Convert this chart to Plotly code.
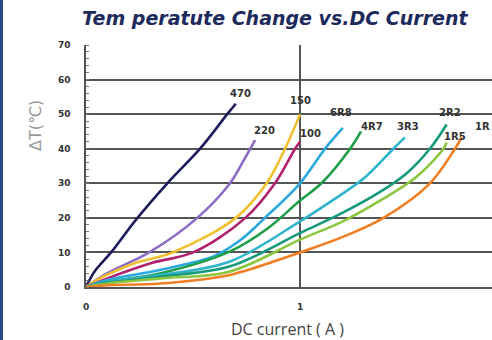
import plotly.graph_objects as go

names = ["470", "220", "150", "100", "6R8", "4R7", "3R3", "2R2", "1R5", "1R"]
colors = ["#1d1b5a", "#8c6cc4", "#f0c030", "#b0226c", "#2aa8e0",
          "#1f9e48", "#30b4cc", "#16987a", "#8cc640", "#f07e22"]

x_470 = [0, 0.04, 0.117, 0.234, 0.38, 0.533, 0.66, 0.70]
y_470 = [0, 4.5, 10, 19.5, 30, 40, 50, 53]
x_220 = [0, 0.10, 0.295, 0.52, 0.673, 0.74, 0.79]
y_220 = [0, 4, 10, 20, 30, 37, 42.5]
x_150 = [0, 0.05, 0.234, 0.405, 0.70, 0.844, 0.93, 1.0]
y_150 = [0, 2, 7, 10, 20, 30, 40, 50]
x_100 = [0, 0.10, 0.31, 0.50, 0.745, 0.883, 0.977, 1.0]
y_100 = [0, 2.5, 7, 10, 20, 30, 40, 42]
x_6r8 = [0, 0.10, 0.35, 0.60, 0.72, 0.836, 1.0, 1.117, 1.20]
y_6r8 = [0, 2, 5, 9, 13.5, 20, 30, 40, 46]
x_4r7 = [0, 0.10, 0.35, 0.673, 0.85, 1.0, 1.10, 1.234, 1.285]
y_4r7 = [0, 1.5, 4, 10.3, 17, 25, 30, 40, 45]
x_3r3 = [0, 0.10, 0.35, 0.673, 1.0, 1.15, 1.30, 1.436, 1.49]
y_3r3 = [0, 1.5, 3.5, 7.4, 19, 25, 31.5, 40, 43.3]
x_2r2 = [0, 0.10, 0.35, 0.673, 1.0, 1.2, 1.374, 1.50, 1.607, 1.685]
y_2r2 = [0, 1.2, 3, 6, 15.6, 21.5, 27.5, 33, 40, 47]
x_1r5 = [0, 0.10, 0.35, 0.673, 1.0, 1.2, 1.374, 1.537, 1.67, 1.685]
y_1r5 = [0, 1, 2.5, 4.5, 13.7, 19, 25, 31.5, 40, 41.8]
x_1r = [0, 0.10, 0.35, 0.673, 0.748, 1.0, 1.2, 1.39, 1.607, 1.724, 1.755]
y_1r = [0, 0.5, 1, 3.5, 4.8, 10, 14.5, 20, 30, 40, 43.3]

xs = [x_470, x_220, x_150, x_100, x_6r8, x_4r7, x_3r3, x_2r2, x_1r5, x_1r]
ys = [y_470, y_220, y_150, y_100, y_6r8, y_4r7, y_3r3, y_2r2, y_1r5, y_1r]

label_x = [0.72, 0.836, 1.0, 1.05, 1.19, 1.336, 1.505, 1.70, 1.724, 1.897]
label_y = [56, 45.2, 54, 44.3, 50.4, 46.4, 46.4, 50.4, 43.5, 46.4]

x_ticks = [0, 1]
y_ticks = [0, 10, 20, 30, 40, 50, 60, 70]

fig = go.Figure()
for n, c, x, y in zip(names, colors, xs, ys):
    fig.add_trace(go.Scatter(x=x, y=y, mode="lines", name=n,
                             line=dict(color=c, width=2.6, shape="spline", smoothing=1.0)))

for i, (n, lx, ly) in enumerate(zip(names, label_x, label_y)):
    fig.add_annotation(x=lx, y=ly, text="<b>" + n + "</b>", showarrow=False,
                       xanchor="right" if i == len(names) - 1 else "center", yanchor="middle",
                       font=dict(family="DejaVu Sans", size=10, color="#333"))

fig.add_annotation(xref="paper", yref="paper", x=(275 - 86) / 406, y=1 + (45 - 18) / 242,
                   xanchor="center", yanchor="middle",
                   text="<b><i>Tem peratute Change vs.DC Current</i></b>", showarrow=False,
                   font=dict(family="DejaVu Sans", size=19, color="#1c2a5c"))

fig.add_annotation(xref="paper", yref="paper", x=(35 - 86) / 406, y=(287 - 125) / 242,
                   xanchor="center", yanchor="middle",
                   text="ΔT(℃)", showarrow=False, textangle=-90,
                   font=dict(family="DejaVu Sans", size=16, color="#999"))

fig.add_annotation(xref="paper", yref="paper", x=(287 - 86) / 406, y=-(329 - 287) / 242,
                   xanchor="center", yanchor="middle",
                   text="DC current ( A )", showarrow=False,
                   font=dict(family="Open Sans", size=16, color="#444"))

fig.add_shape(type="rect", xref="paper", yref="paper",
              x0=-86 / 406, x1=-83 / 406, y0=-53 / 242, y1=1 + 45 / 242,
              fillcolor="#2a4a8a", line=dict(width=0))

fig.update_layout(
    width=492, height=340,
    margin=dict(l=86, r=0, t=45, b=53),
    paper_bgcolor="white", plot_bgcolor="white",
    showlegend=False,
    xaxis=dict(range=[0, 1.897], tickvals=x_ticks, ticktext=[str(v) for v in x_ticks],
               showgrid=True, gridcolor="#555", gridwidth=1.5, zeroline=False,
               showline=True, linecolor="#555", linewidth=1.5, automargin=False,
               ticks="", ticklabelstandoff=10,
               tickfont=dict(family="DejaVu Sans", size=9, color="#333", weight="bold")),
    yaxis=dict(range=[0, 70], tickvals=y_ticks, ticktext=[str(v) for v in y_ticks],
               showgrid=True, gridcolor="#555", gridwidth=1.5, zeroline=False,
               showline=True, linecolor="#555", linewidth=1.5, automargin=False,
               ticks="", ticklabelstandoff=12,
               minor=dict(dtick=2, ticks="inside", ticklen=3, tickcolor="#777", showgrid=False),
               tickfont=dict(family="DejaVu Sans", size=9, color="#333", weight="bold")),
)

fig.write_html("out.html", config={"displayModeBar": False},
               post_script="document.body.style.margin='0';document.body.style.overflow='hidden';")
